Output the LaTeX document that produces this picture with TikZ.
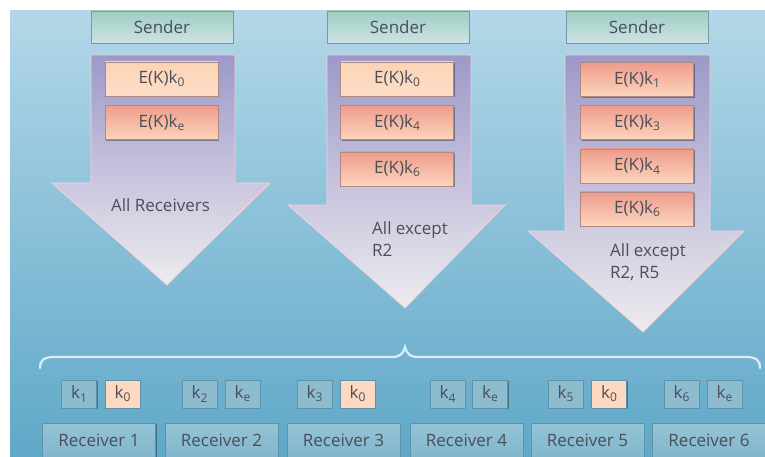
\documentclass[tikz,border=0pt]{standalone}
\usepackage{fontspec}
\setmainfont{Open Sans}
\usetikzlibrary{shadows}
\definecolor{bgtop}{HTML}{B3D7E8}
\definecolor{bgbot}{HTML}{5FA8C8}
\definecolor{txt}{HTML}{4C4E58}
\definecolor{sendtop}{HTML}{A0CEC3}
\definecolor{sendbot}{HTML}{CCE2E5}
\definecolor{senddraw}{HTML}{7A9AA0}
\definecolor{lighttop}{HTML}{FCD3B6}
\definecolor{lightbot}{HTML}{FDDEC8}
\definecolor{pinktop}{HTML}{EE9C8C}
\definecolor{pinkbot}{HTML}{FCD5BC}
\definecolor{boxdraw}{HTML}{B08A80}
\definecolor{arrtop}{HTML}{9C99C9}
\definecolor{arrmid}{HTML}{C6C2DD}
\definecolor{arrbot}{HTML}{ECECEE}
\definecolor{arredge}{HTML}{F3D3D8}
\definecolor{keyfill}{HTML}{8DBCCF}
\definecolor{keydraw}{HTML}{5F93AA}
\definecolor{keyzero}{HTML}{FCD9C0}
\definecolor{rectop}{HTML}{95C4D7}
\definecolor{recbot}{HTML}{80B6CC}
\definecolor{bracecol}{HTML}{D8EFF7}
\newcommand{\ksub}[1]{k\raisebox{-0.35ex}{\fontsize{12}{12}\selectfont #1}}
\tikzset{
  base/.style={inner sep=0pt, text=txt, font=\fontsize{17}{20}\selectfont,
    drop shadow={shadow xshift=1.3pt, shadow yshift=-1.3pt, opacity=0.35, fill=black}},
  sender/.style={base, minimum width=142pt, minimum height=32pt,
    top color=sendtop, bottom color=sendbot, draw=senddraw, line width=0.5pt},
  ebox/.style={base, minimum width=113pt, minimum height=34pt,
    top color=lighttop, bottom color=lightbot, draw=boxdraw, line width=0.4pt},
  epink/.style={ebox, top color=pinktop, bottom color=pinkbot},
  arrowshape/.style={top color=arrtop, bottom color=arrbot, middle color=arrmid,
    draw=arredge, line width=0.8pt, line join=miter},
  arrlabel/.style={text=txt, font=\fontsize{17}{22}\selectfont, inner sep=0pt},
  keybox/.style={base, minimum width=35pt, minimum height=28pt,
    fill=keyfill, draw=keydraw, line width=0.5pt},
  keyzbox/.style={keybox, fill=keyzero},
  recbox/.style={base, minimum width=113pt, minimum height=34pt,
    top color=rectop, bottom color=recbot, draw=keydraw, line width=0.5pt},
  bracestyle/.style={draw=bracecol, line width=2.2pt, line cap=round}
}
\begin{document}
\begin{tikzpicture}[x=1pt,y=-1pt]
\useasboundingbox (0,0) rectangle (765,457);
\fill[white] (0,0) rectangle (765,457);
\shade[top color=bgtop, bottom color=bgbot] (10,11) rectangle (765,457);

% senders
\node[sender] (s1) at (162,27) {Sender};
\node[sender] (s2) at (398,27) {Sender};
\node[sender] (s3) at (637,27) {Sender};

% arrows
\path[arrowshape] (91,55) -- (235,55) -- (235,183) -- (270,183) -- (167,285) -- (52,183) -- (91,183) -- cycle;
\path[arrowshape] (327,55) -- (471,55) -- (471,205) -- (505,205) -- (405,308) -- (288,205) -- (327,205) -- cycle;
\path[arrowshape] (565,55) -- (710,55) -- (710,231) -- (744,231) -- (643,332) -- (528,231) -- (565,231) -- cycle;

% encrypted keys
\node[ebox]  (a1) at (161.5,79) {E(K)\ksub{0}};
\node[epink] (a2) at (161.5,122.5) {E(K)\ksub{e}};

\node[ebox]  (b1) at (397,79) {E(K)\ksub{0}};
\node[epink] (b2) at (397,122.5) {E(K)\ksub{4}};
\node[epink] (b3) at (397,169) {E(K)\ksub{6}};

\node[epink] (c1) at (637,79.5) {E(K)\ksub{1}};
\node[epink] (c2) at (637,122.5) {E(K)\ksub{3}};
\node[epink] (c3) at (637,166) {E(K)\ksub{4}};
\node[epink] (c4) at (637,209) {E(K)\ksub{6}};

% arrow labels
\node[arrlabel] (l1) at (160.5,205) {All Receivers};
\node[arrlabel, anchor=west, align=left] (l2) at (372,239) {All except\\R2};
\node[arrlabel, anchor=west, align=left] (l3) at (610,262) {All except\\R2, R5};

% brace
\draw[bracestyle] (40,368) .. controls (40,360) and (44,357) .. (54,357) -- (392,357)
  .. controls (400,357) and (403,354) .. (405,347)
  .. controls (407,354) and (410,357) .. (418,357) -- (746,357)
  .. controls (756,357) and (760,360) .. (760,368);

% receiver keys
\node[keybox]  (k11) at (79,394) {\ksub{1}};
\node[keyzbox] (k12) at (122.5,394) {\ksub{0}};
\node[keybox]  (k21) at (199.5,394) {\ksub{2}};
\node[keybox]  (k22) at (242.5,394) {\ksub{e}};
\node[keybox]  (k31) at (314.5,394) {\ksub{3}};
\node[keyzbox] (k32) at (357.5,394) {\ksub{0}};
\node[keybox]  (k41) at (447.5,394) {\ksub{4}};
\node[keybox]  (k42) at (490,394) {\ksub{e}};
\node[keybox]  (k51) at (565.5,394) {\ksub{5}};
\node[keyzbox] (k52) at (609,394) {\ksub{0}};
\node[keybox]  (k61) at (681.5,394) {\ksub{6}};
\node[keybox]  (k62) at (724.5,394) {\ksub{e}};

% receivers
\node[recbox] (r1) at (99,440) {Receiver 1};
\node[recbox] (r2) at (221.5,440) {Receiver 2};
\node[recbox] (r3) at (343.5,440) {Receiver 3};
\node[recbox] (r4) at (466.5,440) {Receiver 4};
\node[recbox] (r5) at (587.5,440) {Receiver 5};
\node[recbox] (r6) at (709,440) {Receiver 6};
\end{tikzpicture}
\end{document}
